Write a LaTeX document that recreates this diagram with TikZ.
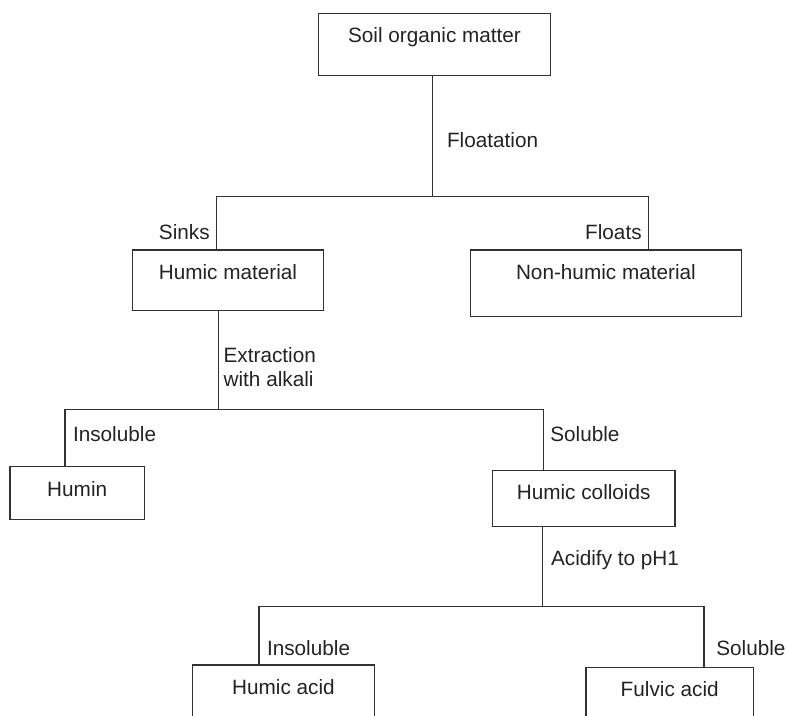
\documentclass[tikz,border=0pt]{standalone}
\usepackage{fontspec}
\setmainfont{Liberation Sans}
\definecolor{inkgray}{RGB}{35,35,35}
\definecolor{linegray}{RGB}{50,50,50}
\tikzset{
  fracbox/.style={draw=linegray, line width=0.25mm, anchor=north, outer sep=0pt,
    inner xsep=0pt, inner ysep=0.8mm, text height=5.1mm, text=inkgray},
  fraclabel/.style={anchor=base west, inner sep=0pt, text=inkgray},
  fracedge/.style={draw=linegray, line width=0.25mm}
}

\begin{document}
\begin{tikzpicture}[x=0.2mm, y=-0.2mm, font=\fontsize{11.8pt}{13.8pt}\selectfont]
  \useasboundingbox (0,0) rectangle (786,716);
  \clip (0,0) rectangle (786,716);

  \node[fracbox, minimum width=46.5mm, text depth=5.7mm] (som) at (434.5,13.3) {Soil organic matter};
  \node[fracbox, minimum width=38.1mm, text depth=5.4mm] (hummat) at (228,250) {Humic material};
  \node[fracbox, minimum width=54.3mm, text depth=6.6mm] (nonhum) at (605.9,250) {Non-humic material};
  \node[fracbox, minimum width=26.9mm, text depth=3.8mm] (humin) at (77.2,466.7) {Humin};
  \node[fracbox, minimum width=36.5mm, text depth=4.5mm] (colloid) at (583.7,470.3) {Humic colloids};
  \node[fracbox, minimum width=36.3mm, text depth=15mm] (humacid) at (283.5,665) {Humic acid};
  \node[fracbox, minimum width=33.5mm, text depth=15mm] (fulvic) at (669.7,667.3) {Fulvic acid};

  \coordinate (fork1) at (432.7,196.7);
  \coordinate (sinkc) at (216.7,196.7);
  \coordinate (floatc) at (648.3,196.7);
  \coordinate (fork2) at (218.3,409.3);
  \coordinate (insolc) at (65,409.3);
  \coordinate (solc) at (543.3,409.3);
  \coordinate (fork3) at (542.7,606.7);
  \coordinate (insolc2) at (259,606.7);
  \coordinate (solc2) at (704,606.7);

  \draw[fracedge] (som.south -| fork1) -- (fork1);
  \draw[fracedge] (hummat.north -| sinkc) -- (sinkc) -- (floatc) -- (nonhum.north -| floatc);
  \draw[fracedge] (hummat.south -| fork2) -- (fork2);
  \draw[fracedge] (humin.north -| insolc) -- (insolc) -- (solc) -- (colloid.north -| solc);
  \draw[fracedge] (colloid.south -| fork3) -- (fork3);
  \draw[fracedge] (humacid.north -| insolc2) -- (insolc2) -- (solc2) -- (fulvic.north -| solc2);

  \node[fraclabel] (lfloat) at (446.7,147.5) {Floatation};
  \node[fraclabel, anchor=base east] (lsink) at (210,239.2) {Sinks};
  \node[fraclabel, anchor=base east] (lfloats) at (642,239.2) {Floats};
  \node[fraclabel, anchor=west, align=left] (lextract) at (223.3,367.2) {Extraction\\with alkali};
  \node[fraclabel] (linsol) at (72.7,441.8) {Insoluble};
  \node[fraclabel] (lsol) at (550,441.8) {Soluble};
  \node[fraclabel] (lacid) at (550.7,565.2) {Acidify to pH1};
  \node[fraclabel] (linsol2) at (266.7,655.8) {Insoluble};
  \node[fraclabel] (lsol2) at (716,655.8) {Soluble};
\end{tikzpicture}
\end{document}
